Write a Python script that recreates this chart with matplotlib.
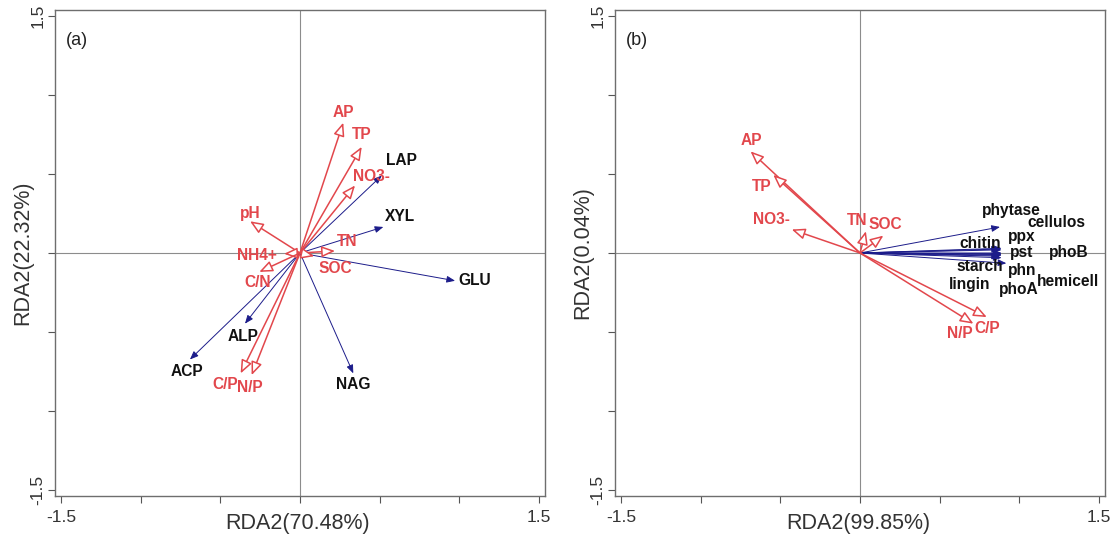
import matplotlib

matplotlib.use("Agg")
import matplotlib.pyplot as plt

# ---- panel (a) ----
env_a = ["AP", "TP", "NO3-", "pH", "NH4+", "C/N", "TN", "SOC", "C/P", "N/P"]
env_a_x = [0.272, 0.388, 0.346, -0.314, -0.10, -0.256, 0.22, 0.09, -0.373, -0.304]
env_a_y = [0.826, 0.673, 0.428, 0.201, -0.005, -0.12, 0.013, -0.02, -0.763, -0.774]
env_a_lx = [0.272, 0.388, 0.451, -0.314, -0.272, -0.264, 0.294, 0.22, -0.472, -0.314]
env_a_ly = [0.893, 0.748, 0.484, 0.253, -0.019, -0.187, 0.075, -0.10, -0.836, -0.855]

enz_a = ["LAP", "XYL", "GLU", "NAG", "ALP", "ACP"]
enz_a_x = [0.514, 0.524, 0.975, 0.335, -0.346, -0.692]
enz_a_y = [0.491, 0.165, -0.176, -0.763, -0.448, -0.675]
enz_a_lx = [0.64, 0.629, 1.10, 0.335, -0.358, -0.713]
enz_a_ly = [0.585, 0.233, -0.176, -0.836, -0.528, -0.753]

# ---- panel (b) ----
env_b = ["AP", "TP", "NO3-", "TN", "SOC", "N/P", "C/P"]
env_b_x = [-0.688, -0.545, -0.429, 0.037, 0.147, 0.713, 0.797]
env_b_y = [0.644, 0.495, 0.149, 0.138, 0.11, -0.448, -0.406]
env_b_lx = [-0.681, -0.618, -0.555, -0.02, 0.157, 0.629, 0.797]
env_b_ly = [0.71, 0.421, 0.212, 0.206, 0.18, -0.508, -0.48]

enz_b = ["phytase", "cellulos", "ppx", "chitin", "pst", "phoB",
         "starch", "phn", "lingin", "phoA", "hemicell"]
enz_b_x = [0.88, 0.89, 0.89, 0.88, 0.89, 0.89, 0.92, 0.89, 0.88, 0.89, 0.89]
enz_b_y = [0.165, 0.03, 0.02, 0.025, 0.0, -0.005, -0.065, -0.01, -0.02, -0.03, -0.015]
enz_b_lx = [0.954, 1.237, 1.017, 0.755, 1.017, 1.31, 0.755, 1.017, 0.692, 0.996, 1.31]
enz_b_ly = [0.268, 0.195, 0.107, 0.061, 0.002, 0.0, -0.086, -0.113, -0.197, -0.233, -0.18]

panels = [
    ("(a)", "RDA2(70.48%)", "RDA2(22.32%)",
     (env_a, env_a_x, env_a_y, env_a_lx, env_a_ly),
     (enz_a, enz_a_x, enz_a_y, enz_a_lx, enz_a_ly)),
    ("(b)", "RDA2(99.85%)", "RDA2(0.04%)",
     (env_b, env_b_x, env_b_y, env_b_lx, env_b_ly),
     (enz_b, enz_b_x, enz_b_y, enz_b_lx, enz_b_ly)),
]

RED = "#E2474C"
NAVY = "#1C1C8A"
LIM = 1.54
ticks = [-1.5, -1.0, -0.5, 0.0, 0.5, 1.0, 1.5]
tick_labels = ["-1.5", "", "", "", "", "", "1.5"]

plt.rcParams["font.family"] = ["Liberation Sans", "DejaVu Sans"]

fig = plt.figure(figsize=(11.10, 5.54), dpi=100)
lefts = [55 / 1110, 615 / 1110]

for left, (tag, xlab, ylab, env, enz) in zip(lefts, panels):
    ax = fig.add_axes([left, 58 / 554, 490 / 1110, 486 / 554])
    ax.set_xlim(-LIM, LIM)
    ax.set_ylim(-LIM, LIM)
    ax.axhline(0, color="#8c8c8c", lw=0.8, zorder=0)
    ax.axvline(0, color="#8c8c8c", lw=0.8, zorder=0)

    names, xs, ys, lxs, lys = enz
    for x, y in zip(xs, ys):
        ax.annotate("", xy=(x, y), xytext=(0, 0),
                    arrowprops=dict(arrowstyle="-|>,head_length=0.5,head_width=0.2",
                                    color=NAVY, lw=0.7, shrinkA=0, shrinkB=0),
                    zorder=2)
    for n, x, y in zip(names, lxs, lys):
        ax.text(x, y, n, ha="center", va="center", fontsize=11.2,
                fontweight="bold", color="#111111", zorder=4)

    names, xs, ys, lxs, lys = env
    for x, y in zip(xs, ys):
        ax.annotate("", xy=(x, y), xytext=(0, 0),
                    arrowprops=dict(arrowstyle="-|>,head_length=0.8,head_width=0.33",
                                    ec=RED, fc="white", lw=1.1,
                                    shrinkA=0, shrinkB=0),
                    zorder=3)
    for n, x, y in zip(names, lxs, lys):
        ax.text(x, y, n, ha="center", va="center", fontsize=11.2,
                fontweight="bold", color=RED, zorder=4)

    ax.text(0.022, 0.938, tag, transform=ax.transAxes, fontsize=13,
            ha="left", va="center", color="#222222")

    ax.set_xticks(ticks)
    ax.set_xticklabels(tick_labels, fontsize=12.5, color="#333333")
    ax.set_yticks(ticks)
    ax.set_yticklabels(tick_labels, fontsize=12.5, color="#333333",
                       rotation=90, va="center")
    ax.tick_params(axis="both", length=5, width=0.8, color="#555555")
    ax.tick_params(axis="x", pad=5)
    ax.tick_params(axis="y", pad=2)
    for s in ax.spines.values():
        s.set_color("#6e6e6e")
        s.set_linewidth(1.0)

    ax.set_xlabel(xlab, fontsize=15.5, color="#333333")
    ax.set_ylabel(ylab, fontsize=15.5, color="#333333")
    ax.xaxis.set_label_coords(0.496, -0.036)
    ax.yaxis.set_label_coords(-0.045, 0.5)

fig.savefig("out.png", dpi=100)
